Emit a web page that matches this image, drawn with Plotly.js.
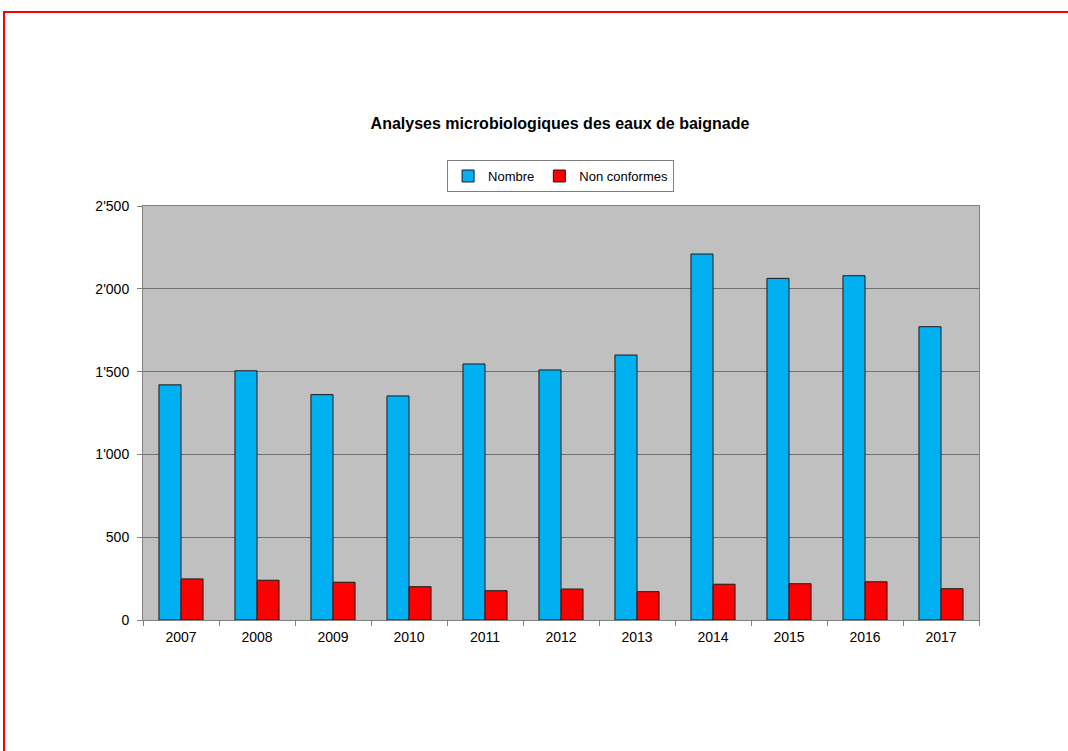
<!DOCTYPE html>
<html><head><meta charset="utf-8">
<script src="https://cdn.plot.ly/plotly-3.0.1.min.js"></script>
<style>
html,body{margin:0;padding:0;background:#fff;overflow:hidden;}
#frame{position:absolute;left:3px;top:11px;width:1100px;height:800px;border:2px solid #ff0000;box-sizing:border-box;}
#chart{position:absolute;left:0;top:0;width:1068px;height:751px;}
</style></head>
<body>
<div id="frame"></div>
<div id="chart"></div>
<script>
const years = ['2007','2008','2009','2010','2011','2012','2013','2014','2015','2016','2017'];
const nombre = [1420, 1505, 1361, 1353, 1546, 1510, 1600, 2210, 2063, 2079, 1771];
const nonConformes = [248, 240, 228, 201, 177, 187, 171, 216, 219, 231, 189];
const yTickVals = [0, 500, 1000, 1500, 2000, 2500];
const yTickText = ['0', '500', "1'000", "1'500", "2'000", "2'500"];

const traces = [
  {type:'bar', name:'Nombre', x:years, y:nombre,
   marker:{color:'#00B0F0', line:{color:'#1a1a1a', width:1}}},
  {type:'bar', name:'Non conformes', x:years, y:nonConformes,
   marker:{color:'#FF0000', line:{color:'#1a1a1a', width:1}}}
];
const layout = {
  width:1068, height:751,
  paper_bgcolor:'rgba(0,0,0,0)', plot_bgcolor:'#C0C0C0',
  margin:{l:143, r:89, t:206, b:131},
  font:{family:'Liberation Sans, Arial, sans-serif', color:'#000', size:14},
  title:{text:'<b>Analyses microbiologiques des eaux de baignade</b>', font:{size:16, color:'#000'},
    x:560/1068, xanchor:'center', xref:'container', y:1-123/751, yanchor:'middle', yref:'container'},
  barmode:'group', bargap:0.42, bargroupgap:0,
  showlegend:true,
  legend:{orientation:'h', x:0.4995, xanchor:'center', y:1.111, yanchor:'top',
    bordercolor:'#808080', borderwidth:1, bgcolor:'#fff', font:{size:13},
    itemwidth:30, traceorder:'normal'},
  xaxis:{type:'category', showline:true, linecolor:'#808080', linewidth:1, mirror:true,
    ticks:'outside', ticklen:5, tickcolor:'#808080', tickson:'boundaries',
    showgrid:false, tickfont:{size:14}, ticklabelstandoff:4},
  yaxis:{range:[0,2500], tickvals:yTickVals, ticktext:yTickText,
    showline:true, linecolor:'#808080', linewidth:1, mirror:true,
    ticks:'outside', ticklen:5, tickcolor:'#808080',
    showgrid:true, gridcolor:'#707070', gridwidth:1, zeroline:false, tickfont:{size:14}, ticklabelstandoff:5}
};
Plotly.newPlot('chart', traces, layout, {displayModeBar:false, staticPlot:true});
</script>
</body></html>
